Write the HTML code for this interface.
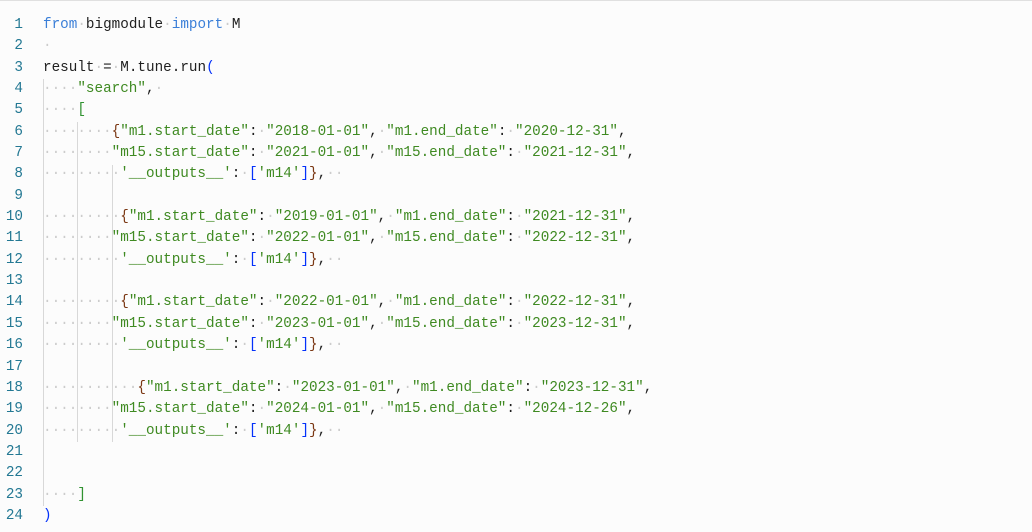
<!DOCTYPE html>
<html><head><meta charset="utf-8"><style>
html,body{margin:0;padding:0;background:#fcfcfc;width:1032px;height:532px;overflow:hidden;position:relative}
.top{position:absolute;left:0;top:0;width:1032px;height:1px;background:#e0e0e0}
.ln{position:absolute;left:0;top:15px;width:23px;text-align:right;font:14.3px/21.35px "Liberation Mono",monospace;color:#237893;white-space:pre}
.code{position:absolute;left:43px;top:15px;font:14.3px/21.35px "Liberation Mono",monospace;color:#1f1f1f;white-space:pre}
.w{color:#cccccc}
.k{color:#3b7fd8}
.s{color:#3f8a22}
.b1{color:#0431fa}.b2{color:#319331}.b3{color:#7b3814}
.g{position:absolute;width:1px;background:#d8d8d8}
</style></head><body>
<div class="top"></div>
<div class="g" style="left:43px;top:79px;height:427px"></div>
<div class="g" style="left:77px;top:122px;height:320px"></div>
<div class="g" style="left:112px;top:165px;height:277px"></div>
<div class="ln">1
2
3
4
5
6
7
8
9
10
11
12
13
14
15
16
17
18
19
20
21
22
23
24</div>
<div class="code"><span class="k">from</span><span class="w">·</span>bigmodule<span class="w">·</span><span class="k">import</span><span class="w">·</span>M
<span class="w">·</span>
result<span class="w">·</span>=<span class="w">·</span>M.tune.run<span class="b1">(</span>
<span class="w">····</span><span class="s">"search"</span>,<span class="w">·</span>
<span class="w">····</span><span class="b2">[</span>
<span class="w">········</span><span class="b3">{</span><span class="s">"m1.start_date"</span>:<span class="w">·</span><span class="s">"2018-01-01"</span>,<span class="w">·</span><span class="s">"m1.end_date"</span>:<span class="w">·</span><span class="s">"2020-12-31"</span>,
<span class="w">········</span><span class="s">"m15.start_date"</span>:<span class="w">·</span><span class="s">"2021-01-01"</span>,<span class="w">·</span><span class="s">"m15.end_date"</span>:<span class="w">·</span><span class="s">"2021-12-31"</span>,
<span class="w">·········</span><span class="s">'__outputs__'</span>:<span class="w">·</span><span class="b1">[</span><span class="s">'m14'</span><span class="b1">]</span><span class="b3">}</span>,<span class="w">··</span>

<span class="w">·········</span><span class="b3">{</span><span class="s">"m1.start_date"</span>:<span class="w">·</span><span class="s">"2019-01-01"</span>,<span class="w">·</span><span class="s">"m1.end_date"</span>:<span class="w">·</span><span class="s">"2021-12-31"</span>,
<span class="w">········</span><span class="s">"m15.start_date"</span>:<span class="w">·</span><span class="s">"2022-01-01"</span>,<span class="w">·</span><span class="s">"m15.end_date"</span>:<span class="w">·</span><span class="s">"2022-12-31"</span>,
<span class="w">·········</span><span class="s">'__outputs__'</span>:<span class="w">·</span><span class="b1">[</span><span class="s">'m14'</span><span class="b1">]</span><span class="b3">}</span>,<span class="w">··</span>

<span class="w">·········</span><span class="b3">{</span><span class="s">"m1.start_date"</span>:<span class="w">·</span><span class="s">"2022-01-01"</span>,<span class="w">·</span><span class="s">"m1.end_date"</span>:<span class="w">·</span><span class="s">"2022-12-31"</span>,
<span class="w">········</span><span class="s">"m15.start_date"</span>:<span class="w">·</span><span class="s">"2023-01-01"</span>,<span class="w">·</span><span class="s">"m15.end_date"</span>:<span class="w">·</span><span class="s">"2023-12-31"</span>,
<span class="w">·········</span><span class="s">'__outputs__'</span>:<span class="w">·</span><span class="b1">[</span><span class="s">'m14'</span><span class="b1">]</span><span class="b3">}</span>,<span class="w">··</span>

<span class="w">···········</span><span class="b3">{</span><span class="s">"m1.start_date"</span>:<span class="w">·</span><span class="s">"2023-01-01"</span>,<span class="w">·</span><span class="s">"m1.end_date"</span>:<span class="w">·</span><span class="s">"2023-12-31"</span>,
<span class="w">········</span><span class="s">"m15.start_date"</span>:<span class="w">·</span><span class="s">"2024-01-01"</span>,<span class="w">·</span><span class="s">"m15.end_date"</span>:<span class="w">·</span><span class="s">"2024-12-26"</span>,
<span class="w">·········</span><span class="s">'__outputs__'</span>:<span class="w">·</span><span class="b1">[</span><span class="s">'m14'</span><span class="b1">]</span><span class="b3">}</span>,<span class="w">··</span>


<span class="w">····</span><span class="b2">]</span>
<span class="b1">)</span></div>
</body></html>
